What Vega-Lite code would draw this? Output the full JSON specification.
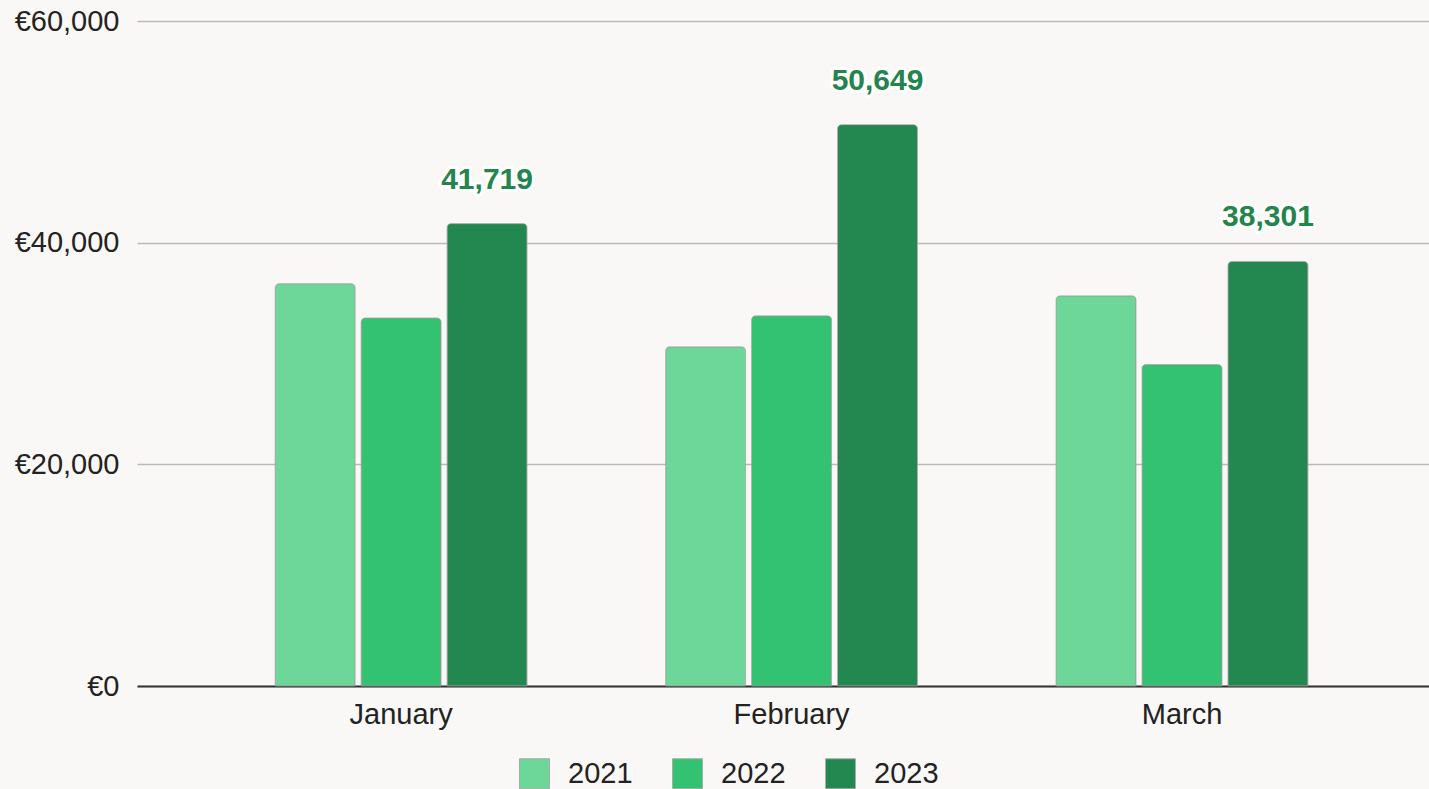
{
  "$schema": "https://vega.github.io/schema/vega-lite/v6.json",
  "autosize": "none",
  "width": 1292,
  "height": 665,
  "padding": {"left": 137, "top": 21, "right": 0, "bottom": 103},
  "background": "#f9f8f6",
  "config": {
    "view": {"stroke": null},
    "font": "Liberation Sans",
    "axis": {"labelFont": "Liberation Sans", "labelFontSize": 29, "labelColor": "#222222"}
  },
  "data": {
    "values": [
      {"month": "January", "year": "2021", "value": 36300},
      {"month": "January", "year": "2022", "value": 33200},
      {"month": "January", "year": "2023", "value": 41719},
      {"month": "February", "year": "2021", "value": 30600},
      {"month": "February", "year": "2022", "value": 33400},
      {"month": "February", "year": "2023", "value": 50649},
      {"month": "March", "year": "2021", "value": 35200},
      {"month": "March", "year": "2022", "value": 29000},
      {"month": "March", "year": "2023", "value": 38301}
    ]
  },
  "encoding": {
    "x": {
      "field": "month", "type": "nominal", "sort": ["January", "February", "March"],
      "scale": {"paddingInner": 0.355, "paddingOuter": 0.332, "align": 0.533},
      "axis": {"title": null, "labelAngle": 0, "ticks": false, "domainColor": "#333333", "domainWidth": 2, "labelPadding": 14, "grid": false}
    },
    "xOffset": {
      "field": "year", "type": "nominal",
      "scale": {"paddingInner": 0.07, "paddingOuter": 0}
    },
    "y": {
      "field": "value", "type": "quantitative",
      "scale": {"domain": [0, 60000]},
      "axis": {"title": null, "values": [0, 20000, 40000, 60000], "format": ",.0f", "labelExpr": "'€' + datum.label", "ticks": false, "domain": false, "labelPadding": 18, "gridColor": "#bababa", "gridWidth": 1.6}
    }
  },
  "layer": [
    {
      "mark": {"type": "bar", "cornerRadiusTopLeft": 4, "cornerRadiusTopRight": 4, "stroke": "#9a9a9a", "strokeWidth": 1, "strokeOpacity": 0.7},
      "encoding": {
        "color": {
          "field": "year", "type": "nominal",
          "scale": {"domain": ["2021", "2022", "2023"], "range": ["#6cd798", "#33c172", "#22884f"]},
          "legend": {
            "title": null, "orient": "none", "direction": "horizontal",
            "legendX": 382, "legendY": 737,
            "symbolType": "square", "symbolSize": 900, "symbolStrokeColor": "#aaaaaa", "symbolStrokeWidth": 1,
            "labelFontSize": 29, "labelFont": "Liberation Sans", "labelColor": "#222222",
            "labelOffset": 18, "columnPadding": 37
          }
        }
      }
    },
    {
      "transform": [{"filter": "datum.year === '2023'"}],
      "mark": {"type": "text", "baseline": "middle", "align": "center", "dy": -44, "fontSize": 30, "fontWeight": "bold", "fill": "#ffffff", "stroke": "#ffffff", "strokeWidth": 6, "strokeJoin": "round"},
      "encoding": {"text": {"field": "value", "type": "quantitative", "format": ",.0f"}}
    },
    {
      "transform": [{"filter": "datum.year === '2023'"}],
      "mark": {"type": "text", "baseline": "middle", "align": "center", "dy": -44, "fontSize": 30, "fontWeight": "bold", "fill": "#23844e"},
      "encoding": {"text": {"field": "value", "type": "quantitative", "format": ",.0f"}}
    }
  ]
}
